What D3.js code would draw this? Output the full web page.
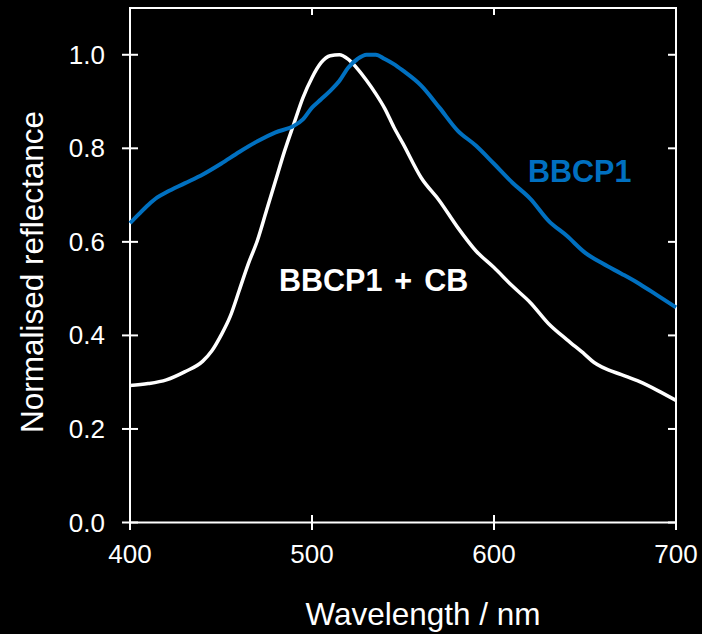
<!DOCTYPE html>
<html>
<head>
<meta charset="utf-8">
<script src="https://cdn.jsdelivr.net/npm/d3@7"></script>
<style>
  html, body { margin: 0; padding: 0; background: #000; }
  svg { display: block; }
  text { font-family: "Liberation Sans", Arial, sans-serif; }
</style>
</head>
<body>
<svg id="chart" width="702" height="634"></svg>
<script>
// ---- data ----
const cbWavelengths = [400,410,420,430,440,445,450,455,460,465,470,475,480,485,490,495,500,505,510,515,520,525,530,535,540,545,550,560,570,580,590,600,610,620,630,640,650,655,660,670,680,690,700];
const cbValues      = [0.293,0.297,0.305,0.322,0.345,0.367,0.40,0.44,0.496,0.553,0.603,0.667,0.731,0.795,0.852,0.908,0.951,0.983,0.998,1.0,0.99,0.97,0.945,0.917,0.885,0.845,0.81,0.737,0.688,0.631,0.581,0.545,0.506,0.47,0.425,0.391,0.359,0.342,0.331,0.316,0.301,0.282,0.261];

const bbWavelengths = [400,405,410,415,420,430,440,450,460,470,480,490,495,500,505,510,515,520,525,530,535,540,545,550,560,570,580,590,600,610,620,630,640,650,660,670,680,690,700];
const bbValues      = [0.640,0.66,0.679,0.695,0.706,0.725,0.744,0.767,0.792,0.815,0.834,0.848,0.862,0.887,0.905,0.923,0.944,0.973,0.991,1.0,1.0,0.991,0.98,0.966,0.934,0.887,0.838,0.806,0.767,0.727,0.692,0.645,0.613,0.577,0.553,0.532,0.51,0.485,0.46];

const xTicks = [400, 500, 600, 700];
const yTicks = [0.0, 0.2, 0.4, 0.6, 0.8, 1.0];
const xTitle = "Wavelength / nm";
const yTitle = "Normalised reflectance";
const seriesLabels = ["BBCP1 + CB", "BBCP1"];

// ---- layout ----
const pLeft = 130, pRight = 676, pTop = 8, pBottom = 522.5;
const svg = d3.select("#chart");

const x = d3.scaleLinear().domain([400, 700]).range([pLeft, pRight]);
const y = d3.scaleLinear().domain([0, 1.1]).range([pBottom, pTop]);

const axisColor = "#fff";

// frame
svg.append("rect")
  .attr("x", pLeft).attr("y", pTop)
  .attr("width", pRight - pLeft).attr("height", pBottom - pTop)
  .attr("fill", "none").attr("stroke", axisColor).attr("stroke-width", 2);

// left axis ticks (crossing)
const gy = svg.append("g");
gy.selectAll("line").data(yTicks).join("line")
  .attr("x1", pLeft - 8).attr("x2", pLeft + 8)
  .attr("y1", d => y(d)).attr("y2", d => y(d))
  .attr("stroke", axisColor).attr("stroke-width", 2);
gy.selectAll("text").data(yTicks).join("text")
  .attr("x", 105).attr("y", d => y(d) + 9)
  .attr("text-anchor", "end")
  .attr("fill", "#fff").attr("font-size", 26)
  .text(d => d3.format(".1f")(d));

// right axis ticks (inward)
svg.append("g").selectAll("line").data(yTicks).join("line")
  .attr("x1", pRight - 8).attr("x2", pRight)
  .attr("y1", d => y(d)).attr("y2", d => y(d))
  .attr("stroke", axisColor).attr("stroke-width", 2);

// bottom axis ticks (crossing)
const gx = svg.append("g");
gx.selectAll("line").data(xTicks).join("line")
  .attr("x1", d => x(d)).attr("x2", d => x(d))
  .attr("y1", pBottom - 7.5).attr("y2", pBottom + 7.5)
  .attr("stroke", axisColor).attr("stroke-width", 2);
gx.selectAll("text").data(xTicks).join("text")
  .attr("x", d => x(d)).attr("y", 563)
  .attr("text-anchor", "middle")
  .attr("fill", "#fff").attr("font-size", 26)
  .text(d => d);

// top axis ticks (inward)
svg.append("g").selectAll("line").data(xTicks).join("line")
  .attr("x1", d => x(d)).attr("x2", d => x(d))
  .attr("y1", pTop).attr("y2", pTop + 7)
  .attr("stroke", axisColor).attr("stroke-width", 2);

// titles
svg.append("text")
  .attr("x", 423).attr("y", 625)
  .attr("text-anchor", "middle")
  .attr("fill", "#fff").attr("font-size", 31.5)
  .text(xTitle);
svg.append("text")
  .attr("transform", "translate(43,272) rotate(-90)")
  .attr("text-anchor", "middle")
  .attr("fill", "#fff").attr("font-size", 31.5)
  .text(yTitle);

// lines
const line = d3.line().x(d => x(d[0])).y(d => y(d[1])).curve(d3.curveMonotoneX);
const cbData = cbWavelengths.map((w, i) => [w, cbValues[i]]);
const bbData = bbWavelengths.map((w, i) => [w, bbValues[i]]);

svg.append("path").datum(cbData)
  .attr("d", line).attr("fill", "none")
  .attr("stroke", "#fff").attr("stroke-width", 3.5)
  .attr("stroke-linejoin", "round");
svg.append("path").datum(bbData)
  .attr("d", line).attr("fill", "none")
  .attr("stroke", "#0070C0").attr("stroke-width", 4)
  .attr("stroke-linejoin", "round");

// labels
svg.append("text")
  .attr("x", 279).attr("y", 291)
  .attr("fill", "#fff").attr("font-size", 30.5).attr("font-weight", "bold")
  .attr("word-spacing", 3.5)
  .text(seriesLabels[0]);
svg.append("text")
  .attr("x", 528).attr("y", 182)
  .attr("fill", "#0070C0").attr("font-size", 30.5).attr("font-weight", "bold")
  .text(seriesLabels[1]);
</script>
</body>
</html>
